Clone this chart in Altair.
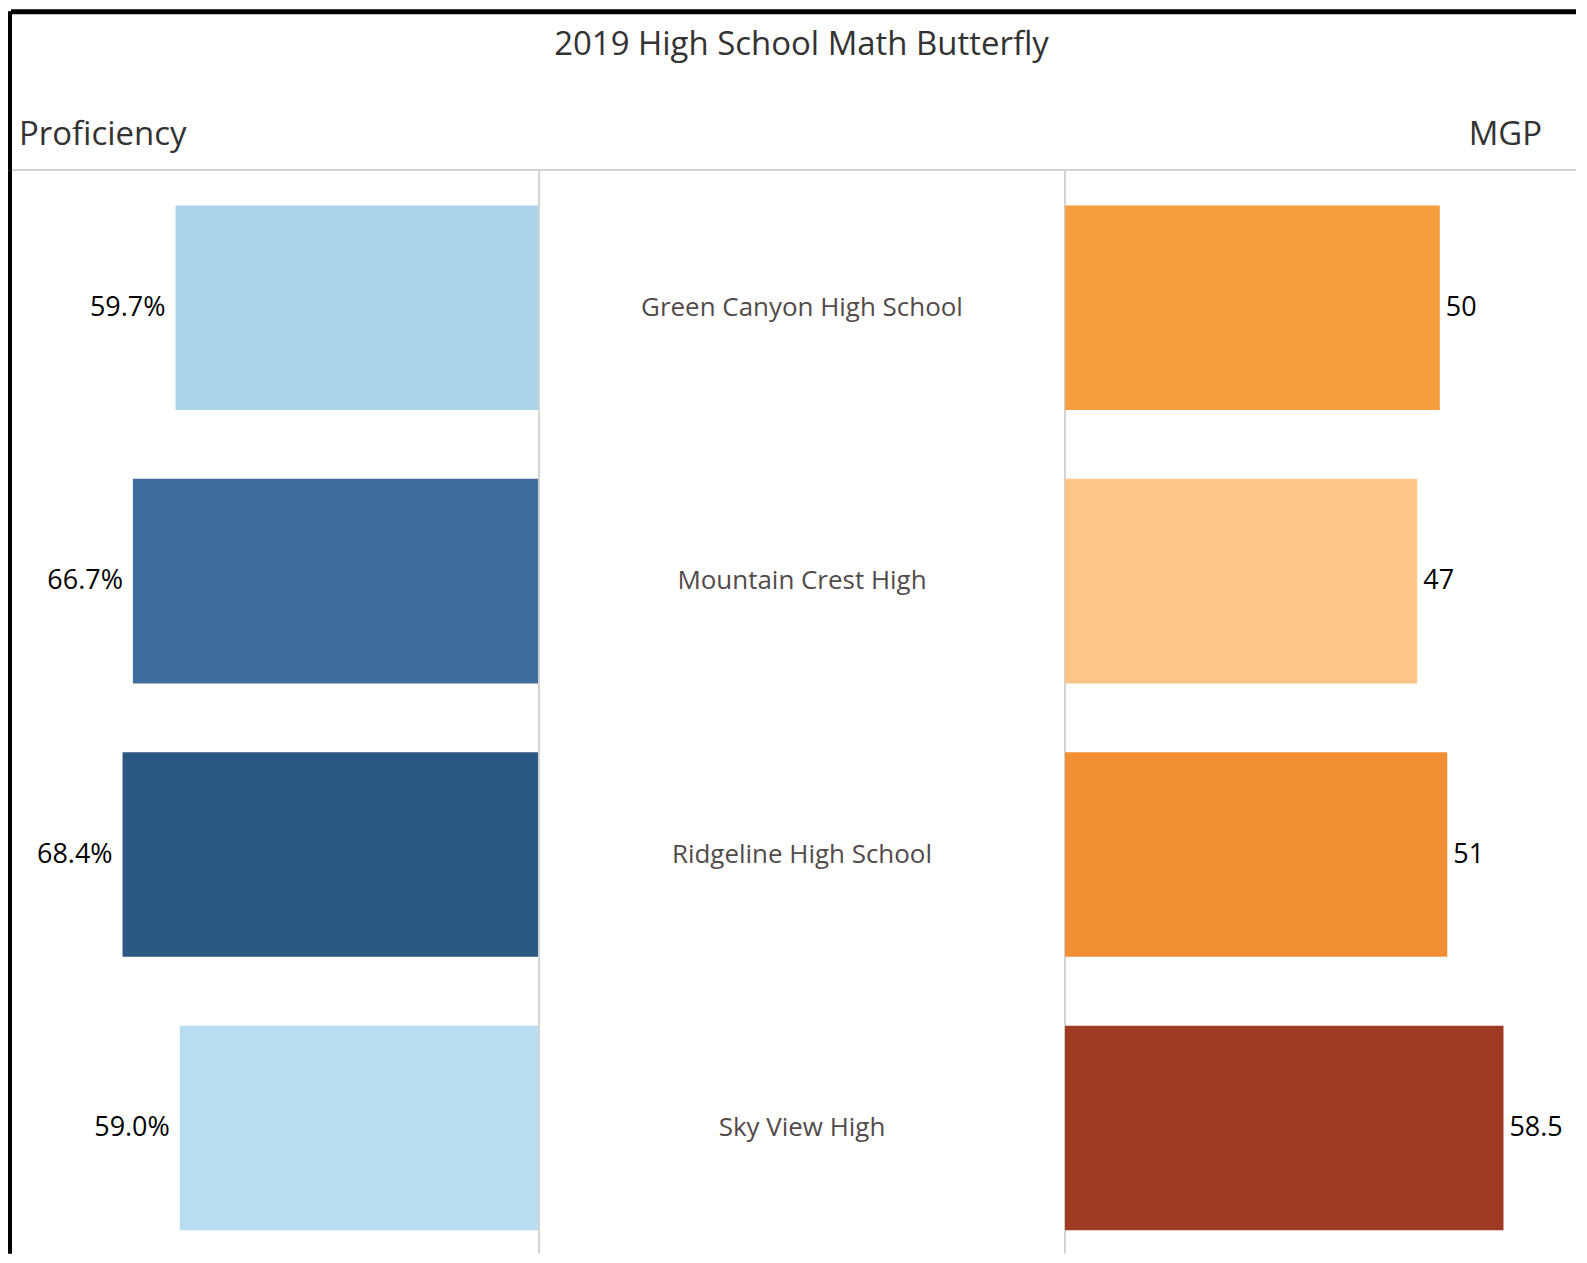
import altair as alt
import pandas as pd

# ---- data ----
schools = ["Green Canyon High School", "Mountain Crest High", "Ridgeline High School", "Sky View High"]
proficiency = [59.7, 66.7, 68.4, 59.0]
mgp = [50, 47, 51, 58.5]

prof_colors = ["#abd3ec", "#3f6e9c", "#2b5883", "#b9ddf0"]
mgp_colors = ["#f49e3e", "#ffc688", "#f28f34", "#9f3b22"]

title_text = "2019 High School Math Butterfly"
left_title = "Proficiency"
right_title = "MGP"

df = pd.DataFrame({"school": schools, "prof": proficiency, "mgp": mgp})

FONT = "Open Sans"
LEFT_W, CENTER_W, RIGHT_W = 532, 527, 512
HEADER_H, BODY_H = 162, 1085
TOTAL_W = LEFT_W + CENTER_W + RIGHT_W
GRID = "#d3d3d3"

yscale = alt.Scale(type="band", domain=schools, paddingInner=0.252, paddingOuter=0.106, align=0.595)
Y = alt.Y("school:N", scale=yscale, axis=None, sort=schools)

one = pd.DataFrame({"a": [0]})

# ---- header ----
def header_text(txt, x, y, align, size):
    return alt.Chart(pd.DataFrame({"label": [txt]})).mark_text(
        font=FONT, fontSize=size, align=align, baseline="middle", color="#333333"
    ).encode(x=alt.value(x), y=alt.value(y), text="label:N")

hline = alt.Chart(one).mark_rule(color=GRID, strokeWidth=2).encode(
    y=alt.value(HEADER_H - 1), x=alt.value(4), x2=alt.value(TOTAL_W))
top_black = alt.Chart(one).mark_rule(color="black", strokeWidth=5).encode(
    y=alt.value(2.5), x=alt.value(3), x2=alt.value(TOTAL_W))
left_black_h = alt.Chart(one).mark_rule(color="black", strokeWidth=4).encode(
    x=alt.value(2), y=alt.value(2), y2=alt.value(HEADER_H))

header = alt.layer(
    hline,
    top_black,
    left_black_h,
    header_text(title_text, 795, 36, "center", 33),
    header_text(left_title, 11, 126, "left", 33),
    header_text(right_title, 1537, 126, "right", 33),
).properties(width=TOTAL_W, height=HEADER_H)

# ---- left panel (proficiency) ----
xl = alt.X("prof:Q", scale=alt.Scale(domain=[0, LEFT_W / 6.1], reverse=True, nice=False, zero=True), axis=None)
left_base = alt.Chart(df).transform_calculate(lab="format(datum.prof, '.1f') + '%'")
left_bars = left_base.mark_bar().encode(
    x=xl, y=Y,
    color=alt.Color("school:N", scale=alt.Scale(domain=schools, range=prof_colors), legend=None),
)
left_labels = left_base.mark_text(font=FONT, fontSize=27, align="right", baseline="middle", dx=-10, color="#000000").encode(
    x=xl, y=Y, text="lab:N"
)
left_black = alt.Chart(one).mark_rule(color="black", strokeWidth=4).encode(
    x=alt.value(2), y=alt.value(0), y2=alt.value(BODY_H))
left_panel = alt.layer(left_bars, left_labels, left_black).properties(width=LEFT_W, height=BODY_H)

# ---- center panel (school names) ----
center_text = alt.Chart(df).mark_text(font=FONT, fontSize=26, align="center", baseline="middle", color="#524b4b").encode(
    y=Y, x=alt.value(CENTER_W / 2), text="school:N"
)
vl1 = alt.Chart(one).mark_rule(color=GRID, strokeWidth=2).encode(x=alt.value(0), y=alt.value(0), y2=alt.value(BODY_H))
vl2 = alt.Chart(one).mark_rule(color=GRID, strokeWidth=2).encode(x=alt.value(CENTER_W), y=alt.value(0), y2=alt.value(BODY_H))
center_panel = alt.layer(vl1, vl2, center_text).properties(width=CENTER_W, height=BODY_H)

# ---- right panel (MGP) ----
xr = alt.X("mgp:Q", scale=alt.Scale(domain=[0, RIGHT_W / 7.51], nice=False, zero=True), axis=None)
right_base = alt.Chart(df).transform_calculate(lab="toString(datum.mgp)")
right_bars = right_base.mark_bar().encode(
    x=xr, y=Y,
    color=alt.Color("school:N", scale=alt.Scale(domain=schools, range=mgp_colors), legend=None),
)
right_labels = right_base.mark_text(font=FONT, fontSize=27, align="left", baseline="middle", dx=6, color="#000000").encode(
    x=xr, y=Y, text="lab:N"
)
right_panel = alt.layer(right_bars, right_labels).properties(width=RIGHT_W, height=BODY_H)

body = alt.hconcat(left_panel, center_panel, right_panel, spacing=0, bounds="flush").resolve_scale(
    color="independent", x="independent"
)

chart = alt.vconcat(header, body, spacing=0, bounds="flush").properties(
    padding=0, background="white"
).configure_view(stroke=None).configure_concat(spacing=0)

chart.save("out.html", embed_options={"renderer": "svg", "actions": False})
